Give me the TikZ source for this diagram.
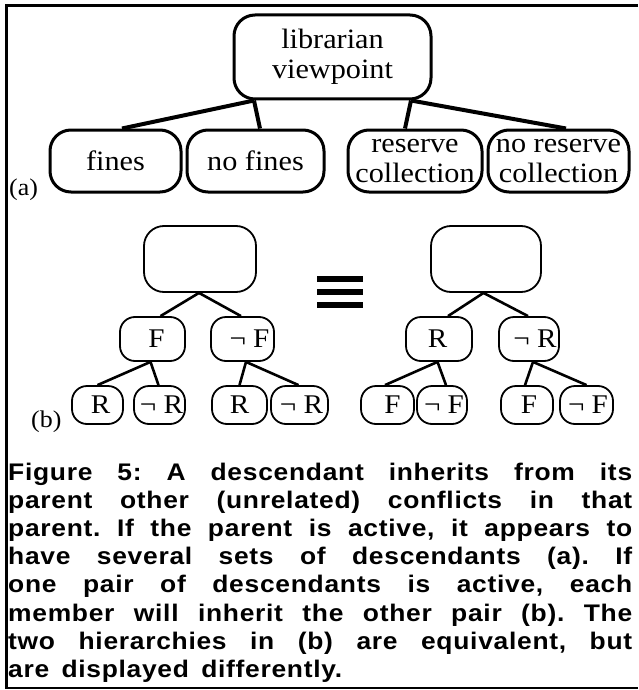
\documentclass[tikz,border=0pt]{standalone}
\usepackage{fontspec}
\setmainfont{Liberation Serif}[FakeStretch=1.08]
\newfontfamily\capfont[LetterSpace=3, FakeStretch=1.1]{Liberation Sans}
\begin{document}
\frenchspacing
\begin{tikzpicture}[x=1pt,y=-1pt,
  bigbox/.style={draw, line width=3pt, rounded corners=21pt, inner sep=0pt, align=center,
    font=\fontsize{28}{30}\selectfont},
  edgeA/.style={line width=4pt},
  rootbox/.style={draw, line width=1.8pt, rounded corners=20pt, inner sep=0pt},
  smallbox/.style={draw, line width=1.8pt, rounded corners=15pt, inner sep=0pt,
    font=\fontsize{27}{27}\selectfont},
  edgeB/.style={line width=2.6pt},
  lbl/.style={anchor=base west, inner sep=0pt, font=\fontsize{24}{24}\selectfont},
  captext/.style={anchor=base west, inner sep=0pt, font=\capfont\bfseries\fontsize{24}{28}\selectfont},
  frameline/.style={line width=3pt}
]
\useasboundingbox (0,0) rectangle (638,690);

% frame
\draw[frameline] (638,5.5) -- (6.3,5.5) -- (6.3,688);
\draw[line width=2pt] (5,688) -- (638,688);

% (a) hierarchy
\node[bigbox, minimum width=197pt, minimum height=84pt] (lib) at (332.5,57) {librarian\\viewpoint};
\node[bigbox, minimum width=131pt, minimum height=62pt] (fines) at (115.5,161) {fines};
\node[bigbox, minimum width=137pt, minimum height=62pt] (nofines) at (255.5,161) {no fines};
\node[bigbox, minimum width=134pt, minimum height=62pt] (res) at (415,161) {reserve\\collection};
\node[bigbox, minimum width=141pt, minimum height=62pt] (nores) at (558.5,161) {no reserve\\collection};
\draw[edgeA] ([xshift=-78.5pt]lib.south) -- ([xshift=6.5pt]fines.north);
\draw[edgeA] ([xshift=-78.5pt]lib.south) -- ([xshift=4.5pt]nofines.north);
\draw[edgeA] ([xshift=78.5pt]lib.south) -- ([xshift=-10pt]res.north);
\draw[edgeA] ([xshift=78.5pt]lib.south) -- ([xshift=7.5pt]nores.north);
\node[lbl] (la) at (9,195) {(a)};

% (b) left hierarchy
\node[rootbox, minimum width=112pt, minimum height=66pt] (rl) at (200,259) {};
\node[smallbox, minimum width=65pt, minimum height=44pt] (lf) at (152.5,339) {\hspace*{8pt}F};
\node[smallbox, minimum width=63pt, minimum height=44pt] (lnf) at (242.5,339) {\hspace*{14pt}¬ F};
\node[smallbox, minimum width=51pt, minimum height=38pt] (lr1) at (97.5,405) {\hspace*{6pt}R};
\node[smallbox, minimum width=51pt, minimum height=38pt] (lnr1) at (159.5,405) {\hspace*{4pt}¬ R};
\node[smallbox, minimum width=55pt, minimum height=38pt] (lr2) at (239.5,405) {R};
\node[smallbox, minimum width=57pt, minimum height=38pt] (lnr2) at (299.5,405) {\hspace*{4pt}¬ R};
\draw[edgeB] ([xshift=-1pt]rl.south) -- ([xshift=8pt]lf.north);
\draw[edgeB] ([xshift=-1pt]rl.south) -- ([xshift=-1.5pt]lnf.north);
\draw[edgeB] ([xshift=-2pt]lf.south) -- (lr1.north);
\draw[edgeB] ([xshift=-2pt]lf.south) -- ([xshift=-1pt]lnr1.north);
\draw[edgeB] ([xshift=3.5pt]lnf.south) -- (lr2.north);
\draw[edgeB] ([xshift=3.5pt]lnf.south) -- ([xshift=-1pt]lnr2.north);

% equivalence sign
\fill (317,276) rectangle (363,282);
\fill (317,289) rectangle (363,295);
\fill (317,302) rectangle (363,308);

% (b) right hierarchy
\node[rootbox, minimum width=110pt, minimum height=66pt] (rr) at (486,259) {};
\node[smallbox, minimum width=66pt, minimum height=44pt] (rrn) at (439,339) {\hspace*{-3pt}R};
\node[smallbox, minimum width=60pt, minimum height=44pt] (rnr) at (529,339) {\hspace*{12pt}¬ R};
\node[smallbox, minimum width=53pt, minimum height=38pt] (rf1) at (387.5,405) {\hspace*{10pt}F};
\node[smallbox, minimum width=50pt, minimum height=38pt] (rnf1) at (442,405) {\hspace*{4pt}¬ F};
\node[smallbox, minimum width=52pt, minimum height=38pt] (rf2) at (527,405) {\hspace*{4pt}F};
\node[smallbox, minimum width=53pt, minimum height=38pt] (rnf2) at (586.5,405) {\hspace*{3pt}¬ F};
\draw[edgeB] ([xshift=-2.5pt]rr.south) -- ([xshift=9pt]rrn.north);
\draw[edgeB] ([xshift=-2.5pt]rr.south) -- ([xshift=-1pt]rnr.north);
\draw[edgeB] ([xshift=-1.5pt]rrn.south) -- ([xshift=-2.5pt]rf1.north);
\draw[edgeB] ([xshift=-1.5pt]rrn.south) -- ([xshift=4pt]rnf1.north);
\draw[edgeB] ([xshift=4pt]rnr.south) -- ([xshift=-2pt]rf2.north);
\draw[edgeB] ([xshift=4pt]rnr.south) -- (rnf2.north);
\node[lbl] (lb) at (31,427) {(b)};

% caption
\node[captext] (c1) at (8,480) {\makebox[624pt][s]{Figure 5: A descendant inherits from its}};
\node[captext] (c2) at (8,508.2) {\makebox[624pt][s]{parent other (unrelated) conflicts in that}};
\node[captext] (c3) at (8,536.4) {\makebox[624pt][s]{parent. If the parent is active, it appears to}};
\node[captext] (c4) at (8,564.6) {\makebox[624pt][s]{have several sets of descendants (a). If}};
\node[captext] (c5) at (8,592.8) {\makebox[624pt][s]{one pair of descendants is active, each}};
\node[captext] (c6) at (8,621) {\makebox[624pt][s]{member will inherit the other pair (b). The}};
\node[captext] (c7) at (8,649.2) {\makebox[624pt][s]{two hierarchies in (b) are equivalent, but}};
\node[captext] (c8) at (8,677.4) {\makebox[334pt][s]{are displayed differently.}};
\end{tikzpicture}
\end{document}
